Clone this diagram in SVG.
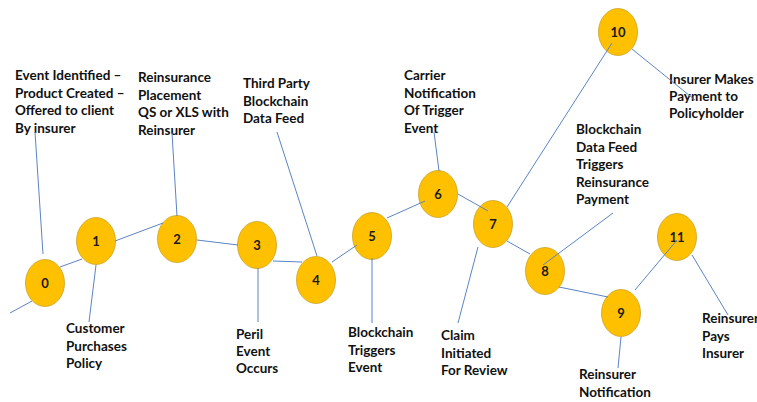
<svg xmlns="http://www.w3.org/2000/svg" width="757" height="402" viewBox="0 0 757 402">
<style>
.n ellipse{fill:#FFC000;stroke:#C9A227;stroke-width:0.8}
.n text{font-family:Lato,"Liberation Sans",sans-serif;font-weight:bold;font-size:13px;fill:#1a1a1a;text-anchor:middle}
.lbl{font-family:Lato,"Liberation Sans",sans-serif;font-weight:bold;font-size:13.5px;fill:#111}
#edges line{stroke:#5B84C4;stroke-width:1}
</style>
<rect width="757" height="402" fill="#fff"/>
<g id="labels">
<text class="lbl" x="15"><tspan x="15" y="80">Event Identified –</tspan><tspan x="15" y="97.5">Product Created –</tspan><tspan x="15" y="115">Offered to client</tspan><tspan x="15" y="132.5">By insurer</tspan></text>
<text class="lbl"><tspan x="138" y="82">Reinsurance</tspan><tspan x="138" y="99.5">Placement</tspan><tspan x="138" y="117">QS or XLS with</tspan><tspan x="138" y="134.5">Reinsurer</tspan></text>
<text class="lbl"><tspan x="243" y="88">Third Party</tspan><tspan x="243" y="105.5">Blockchain</tspan><tspan x="243" y="123">Data Feed</tspan></text>
<text class="lbl"><tspan x="404" y="80">Carrier</tspan><tspan x="404" y="97.5">Notification</tspan><tspan x="404" y="115">Of Trigger</tspan><tspan x="404" y="132.5">Event</tspan></text>
<text class="lbl"><tspan x="669" y="84">Insurer Makes</tspan><tspan x="669" y="101">Payment to</tspan><tspan x="669" y="118">Policyholder</tspan></text>
<text class="lbl"><tspan x="576" y="134">Blockchain</tspan><tspan x="576" y="151.5">Data Feed</tspan><tspan x="576" y="169">Triggers</tspan><tspan x="576" y="186.5">Reinsurance</tspan><tspan x="576" y="204">Payment</tspan></text>
<text class="lbl"><tspan x="66" y="333">Customer</tspan><tspan x="66" y="350.5">Purchases</tspan><tspan x="66" y="368">Policy</tspan></text>
<text class="lbl"><tspan x="236" y="339">Peril</tspan><tspan x="236" y="356">Event</tspan><tspan x="236" y="373">Occurs</tspan></text>
<text class="lbl"><tspan x="348" y="337">Blockchain</tspan><tspan x="348" y="354.5">Triggers</tspan><tspan x="348" y="372">Event</tspan></text>
<text class="lbl"><tspan x="441" y="340">Claim</tspan><tspan x="441" y="357.5">Initiated</tspan><tspan x="441" y="375">For Review</tspan></text>
<text class="lbl"><tspan x="579" y="379">Reinsurer</tspan><tspan x="579" y="397">Notification</tspan></text>
<text class="lbl"><tspan x="702" y="323">Reinsurer</tspan><tspan x="702" y="340.5">Pays</tspan><tspan x="702" y="358">Insurer</tspan></text>
</g>
<g id="n0" class="n"><ellipse cx="45" cy="283" rx="19.5" ry="23.5"/><text x="45" y="288">0</text></g>
<g id="n1" class="n"><ellipse cx="96" cy="241" rx="19.5" ry="23.5"/><text x="96" y="246">1</text></g>
<g id="n2" class="n"><ellipse cx="177" cy="239" rx="19.5" ry="23.5"/><text x="177" y="244">2</text></g>
<g id="n3" class="n"><ellipse cx="257" cy="245" rx="19.5" ry="23.5"/><text x="257" y="250">3</text></g>
<g id="n4" class="n"><ellipse cx="316" cy="280" rx="19.5" ry="23.5"/><text x="316" y="285">4</text></g>
<g id="n5" class="n"><ellipse cx="372" cy="236" rx="19.5" ry="23.5"/><text x="372" y="241">5</text></g>
<g id="n6" class="n"><ellipse cx="438" cy="194" rx="19.5" ry="23.5"/><text x="438" y="199">6</text></g>
<g id="n7" class="n"><ellipse cx="493" cy="224" rx="19.5" ry="23.5"/><text x="493" y="229">7</text></g>
<g id="n8" class="n"><ellipse cx="545" cy="271" rx="19.5" ry="23.5"/><text x="545" y="276">8</text></g>
<g id="n9" class="n"><ellipse cx="621" cy="313" rx="19.5" ry="23.5"/><text x="621" y="318">9</text></g>
<g id="n10" class="n"><ellipse cx="618" cy="32" rx="19.5" ry="23.5"/><text x="618" y="37">10</text></g>
<g id="n11" class="n"><ellipse cx="677" cy="237" rx="19.5" ry="23.5"/><text x="677" y="242">11</text></g>
<g id="edges">
<line x1="10" y1="313" x2="32" y2="301"/>
<line x1="60" y1="267" x2="82" y2="259"/>
<line x1="115" y1="241" x2="163" y2="223"/>
<line x1="197" y1="240" x2="238" y2="245"/>
<line x1="273" y1="261" x2="302" y2="262"/>
<line x1="332" y1="262" x2="357" y2="245"/>
<line x1="387" y1="218" x2="425" y2="201"/>
<line x1="458" y1="194" x2="488" y2="211"/>
<line x1="507" y1="207" x2="612" y2="43"/>
<line x1="507" y1="241" x2="530" y2="254"/>
<line x1="559" y1="287" x2="608" y2="297"/>
<line x1="635" y1="290" x2="677" y2="240"/>
<line x1="43" y1="254" x2="35" y2="132"/>
<line x1="96" y1="265" x2="89" y2="322"/>
<line x1="177" y1="216" x2="172" y2="133"/>
<line x1="258" y1="268" x2="258" y2="322"/>
<line x1="317" y1="256" x2="277" y2="132"/>
<line x1="372" y1="258" x2="372" y2="323"/>
<line x1="439" y1="171" x2="434" y2="132"/>
<line x1="478" y1="247" x2="458" y2="323"/>
<line x1="543" y1="265" x2="613" y2="213"/>
<line x1="632" y1="49" x2="695" y2="100"/>
<line x1="621" y1="337" x2="618" y2="368"/>
<line x1="692" y1="255" x2="728" y2="315"/>
</g>
</svg>
